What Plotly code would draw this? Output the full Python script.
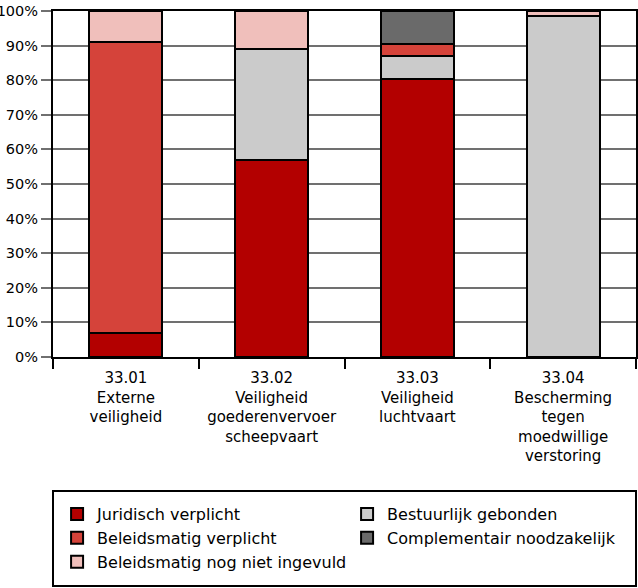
import plotly.graph_objects as go

categories = [
    "33.01<br>Externe<br>veiligheid",
    "33.02<br>Veiligheid<br>goederenvervoer<br>scheepvaart",
    "33.03<br>Veiligheid<br>luchtvaart",
    "33.04<br>Bescherming<br>tegen<br>moedwillige<br>verstoring",
]

juridisch_verplicht = [7, 57, 80.3, None]
bestuurlijk_gebonden = [None, 32, 6.8, 98.6]
beleidsmatig_verplicht = [84, None, 3.3, None]
complementair_noodzakelijk = [None, None, 9.6, None]
beleidsmatig_nog_niet = [9, 11, None, 1.4]

y_ticks = [0, 10, 20, 30, 40, 50, 60, 70, 80, 90, 100]
y_tick_labels = ["0%", "10%", "20%", "30%", "40%", "50%", "60%", "70%", "80%", "90%", "100%"]

series = [
    ("Juridisch verplicht", juridisch_verplicht, "#b30000", 1),
    ("Bestuurlijk gebonden", bestuurlijk_gebonden, "#cbcbcb", 2),
    ("Beleidsmatig verplicht", beleidsmatig_verplicht, "#d5433a", 3),
    ("Complementair noodzakelijk", complementair_noodzakelijk, "#6a6a6a", 4),
    ("Beleidsmatig nog niet ingevuld", beleidsmatig_nog_niet, "#f0bfbb", 5),
]

FONT = "DejaVu Sans"

fig = go.Figure()
for name, vals, color, rank in series:
    fig.add_trace(go.Bar(
        x=categories, y=vals, name=name, legendrank=rank,
        marker=dict(color=color, line=dict(color="#000000", width=2)),
        width=0.5,
    ))

fig.update_layout(
    barmode="stack",
    width=638, height=588,
    margin=dict(l=53, r=2, t=11, b=231, autoexpand=False),
    paper_bgcolor="white", plot_bgcolor="white",
    font=dict(family=FONT, size=15, color="#000000"),
    showlegend=True,
    legend=dict(
        orientation="h", x=0.007, xanchor="left", y=-0.405, yanchor="top",
        entrywidth=245, font=dict(family=FONT, size=16),
        bgcolor="rgba(0,0,0,0)", borderwidth=0, traceorder="normal",
    ),
    shapes=[dict(
        type="rect", xref="paper", yref="paper",
        x0=0, x1=1, y0=-0.662, y1=-0.387,
        line=dict(color="#000000", width=2), fillcolor="rgba(0,0,0,0)",
    )],
)

fig.update_xaxes(
    showgrid=False, showline=True, linecolor="#000000", linewidth=2, mirror=True,
    ticks="outside", tickson="boundaries", ticklen=10, tickcolor="#000000", tickwidth=1.5,
    tickfont=dict(family=FONT, size=15), automargin=False, ticklabelstandoff=6,
)
fig.update_yaxes(
    range=[0, 100], tickmode="array", tickvals=y_ticks, ticktext=y_tick_labels,
    showgrid=True, gridcolor="#707070", gridwidth=1.5,
    showline=True, linecolor="#000000", linewidth=2, mirror=True,
    ticks="outside", ticklen=10, tickcolor="#707070", tickwidth=1.5,
    tickfont=dict(family=FONT, size=14.5), zeroline=False, automargin=False,
    ticklabeloverflow="allow",
)

fig.write_html(
    "out.html",
    config={"displayModeBar": False},
    post_script="document.body.style.margin='0px';",
)
